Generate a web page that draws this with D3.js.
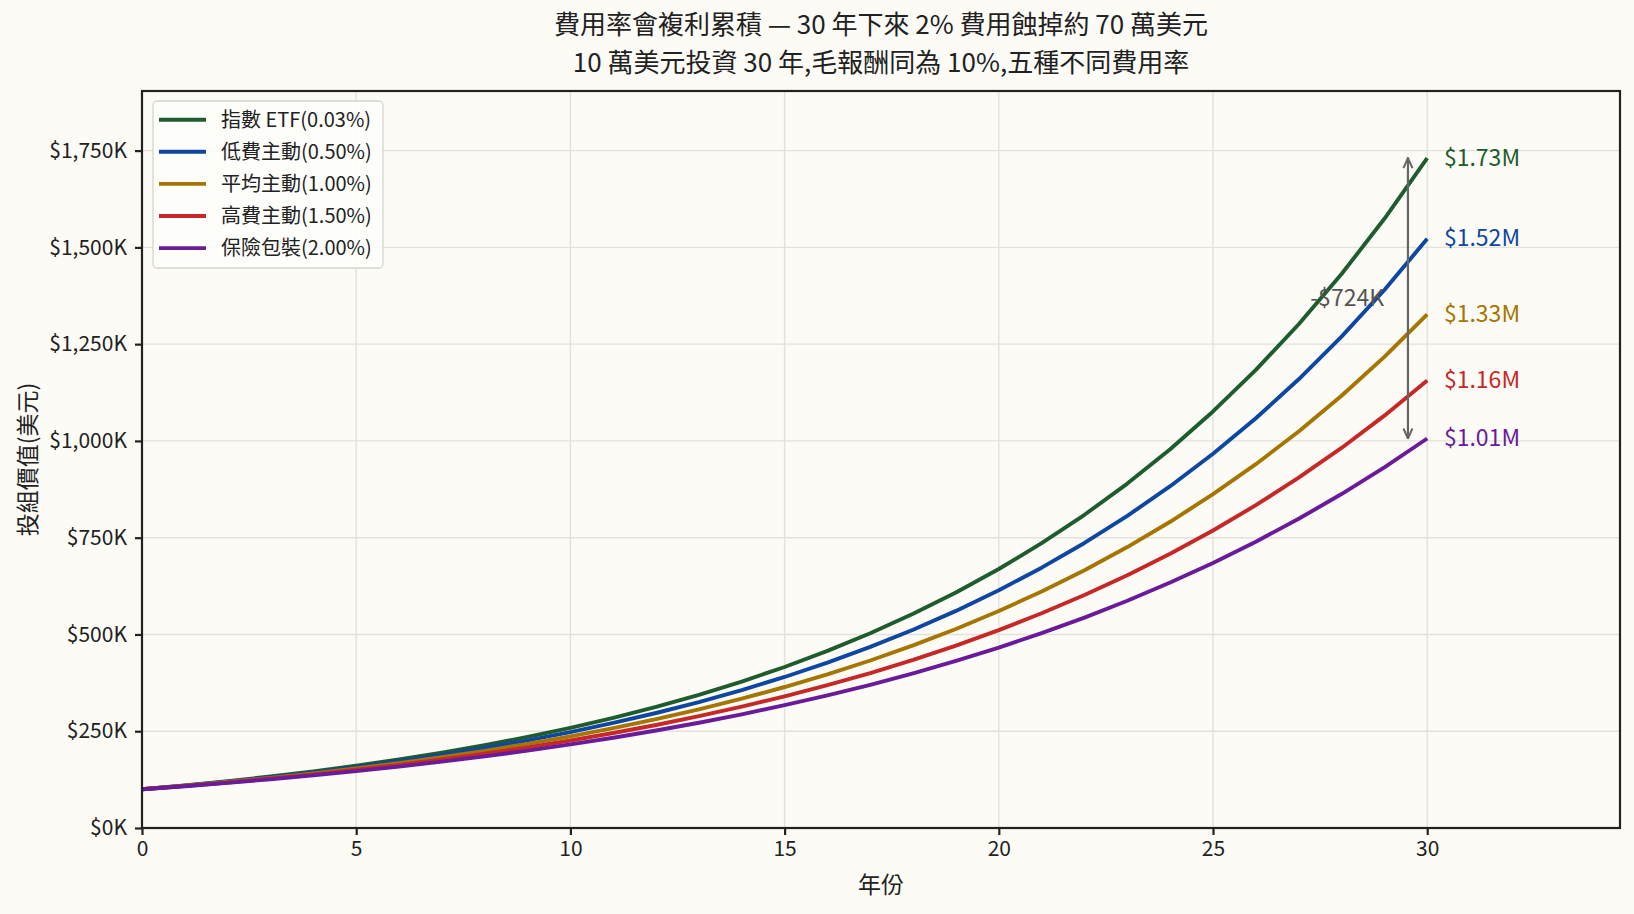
<!DOCTYPE html>
<html>
<head>
<meta charset="utf-8">
<script src="https://cdn.jsdelivr.net/npm/d3@7"></script>
<style>
  body { margin: 0; background: #fcfbf6; }
  svg { font-family: "Noto Sans CJK TC", "Noto Sans", sans-serif; }
</style>
</head>
<body>
<div></div>
<script>
// yearly portfolio value, in $K
var years = d3.range(0, 31);
var names = ["指數 ETF(0.03%)", "低費主動(0.50%)", "平均主動(1.00%)", "高費主動(1.50%)", "保險包裝(2.00%)"];
var colors = ["#1e5c2e", "#0d47a1", "#a57500", "#c62828", "#6a1b9a"];
var endLabels = ["$1.73M", "$1.52M", "$1.33M", "$1.16M", "$1.01M"];

var etf = [100, 109.97, 120.93, 132.99, 146.25, 160.83, 176.86, 194.50, 213.89, 235.21, 258.66,
  284.45, 312.81, 344.00, 378.30, 416.01, 457.49, 503.10, 553.26, 608.42, 669.08,
  735.79, 809.15, 889.82, 978.54, 1076.10, 1183.39, 1301.37, 1431.12, 1573.80, 1730.71];
var lowActive = [100, 109.5, 119.90, 131.30, 143.77, 157.42, 172.38, 188.76, 206.69, 226.32, 247.83,
  271.37, 297.15, 325.38, 356.29, 390.14, 427.20, 467.79, 512.23, 560.89, 614.17,
  672.52, 736.41, 806.37, 882.98, 966.86, 1058.71, 1159.29, 1269.42, 1390.02, 1522.07];
var avgActive = [100, 109, 118.81, 129.50, 141.16, 153.86, 167.71, 182.80, 199.26, 217.19, 236.74,
  258.04, 281.27, 306.58, 334.17, 364.25, 397.03, 432.76, 471.71, 514.17, 560.44,
  610.88, 665.86, 725.79, 791.11, 862.31, 939.92, 1024.51, 1116.71, 1217.22, 1326.77];
var highActive = [100, 108.5, 117.72, 127.73, 138.59, 150.37, 163.15, 177.02, 192.06, 208.39, 226.10,
  245.32, 266.17, 288.80, 313.34, 339.98, 368.88, 400.23, 434.25, 471.16, 511.21,
  554.66, 601.81, 652.96, 708.47, 768.69, 834.02, 904.92, 981.84, 1065.29, 1155.84];
var insurance = [100, 108, 116.64, 125.97, 136.05, 146.93, 158.69, 171.38, 185.09, 199.90, 215.89,
  233.16, 251.82, 271.96, 293.72, 317.22, 342.59, 370.00, 399.60, 431.57, 466.10,
  503.38, 543.65, 587.15, 634.12, 684.85, 739.64, 798.81, 862.71, 931.73, 1006.27];
var series = [etf, lowActive, avgActive, highActive, insurance];

var xTicks = [0, 5, 10, 15, 20, 25, 30];
var yTicks = [0, 250, 500, 750, 1000, 1250, 1500, 1750];
var gapLabel = "-$724K";
var titleLines = ["費用率會複利累積 — 30 年下來 2% 費用蝕掉約 70 萬美元",
  "10 萬美元投資 30 年,毛報酬同為 10%,五種不同費用率"];

var width = 1634, height = 914;
var margin = {left: 142, right: 14, top: 91, bottom: 86};

var svg = d3.select("div").append("svg")
    .attr("width", width)
    .attr("height", height)
    .style("display", "block");

svg.append("rect").attr("width", width).attr("height", height).attr("fill", "#fcfbf6");

var x = d3.scaleLinear()
    .domain([0, 34.5])
    .range([margin.left, width - margin.right]);
var y = d3.scaleLinear()
    .domain([0, 1904])
    .range([height - margin.bottom, margin.top]);

// grid
svg.append("g").selectAll("line").data(xTicks).enter().append("line")
    .attr("x1", d => x(d)).attr("x2", d => x(d))
    .attr("y1", margin.top).attr("y2", height - margin.bottom)
    .attr("stroke", "#e3e1db").attr("stroke-width", 1.4);
svg.append("g").selectAll("line").data(yTicks).enter().append("line")
    .attr("x1", margin.left).attr("x2", width - margin.right)
    .attr("y1", d => y(d)).attr("y2", d => y(d))
    .attr("stroke", "#e3e1db").attr("stroke-width", 1.4);

// lines
var line = d3.line()
    .x((d, i) => x(years[i]))
    .y(d => y(d));

svg.append("g").selectAll("path").data(series).enter().append("path")
    .attr("d", line)
    .attr("fill", "none")
    .attr("stroke", (d, i) => colors[i])
    .attr("stroke-width", 3.9)
    .attr("stroke-linejoin", "round");

// end labels
svg.append("g").selectAll("text").data(series).enter().append("text")
    .attr("x", x(30.39))
    .attr("y", d => y(d[30]))
    .attr("dy", "0.33em")
    .attr("fill", (d, i) => colors[i])
    .attr("font-size", 23)
    .text((d, i) => endLabels[i]);

// gap arrow
var defs = svg.append("defs");
defs.append("marker")
    .attr("id", "head")
    .attr("viewBox", "0 0 12 12")
    .attr("refX", 11).attr("refY", 6)
    .attr("markerWidth", 12).attr("markerHeight", 12)
    .attr("markerUnits", "userSpaceOnUse")
    .attr("orient", "auto-start-reverse")
    .append("path")
    .attr("d", "M1,1.5 L11,6 L1,10.5")
    .attr("fill", "none")
    .attr("stroke", "#666")
    .attr("stroke-width", 2);

var ax = 29.55;
svg.append("line")
    .attr("x1", x(ax)).attr("x2", x(ax))
    .attr("y1", y(etf[30])).attr("y2", y(insurance[30]))
    .attr("stroke", "#666")
    .attr("stroke-width", 2.2)
    .attr("marker-start", "url(#head)")
    .attr("marker-end", "url(#head)");

svg.append("text")
    .attr("x", x(28.13))
    .attr("y", y((etf[30] + insurance[30]) / 2))
    .attr("dy", "0.35em")
    .attr("text-anchor", "middle")
    .attr("fill", "#555")
    .attr("font-size", 23)
    .text(gapLabel);

// axes
var xAxis = svg.append("g")
    .attr("transform", "translate(0," + (height - margin.bottom) + ")")
    .call(d3.axisBottom(x).tickValues(xTicks).tickSize(7).tickPadding(6));
var yAxis = svg.append("g")
    .attr("transform", "translate(" + margin.left + ",0)")
    .call(d3.axisLeft(y).tickValues(yTicks).tickSize(7).tickPadding(8)
        .tickFormat(d => "$" + d3.format(",")(d) + "K"));

[xAxis, yAxis].forEach(function (g) {
    g.select(".domain").remove();
    g.selectAll(".tick line").attr("stroke", "#222").attr("stroke-width", 2.2);
    g.selectAll(".tick text").attr("fill", "#222").attr("font-size", 21)
        .attr("font-family", "\"Noto Sans CJK TC\", sans-serif");
});

// frame
svg.append("rect")
    .attr("x", margin.left).attr("y", margin.top)
    .attr("width", width - margin.left - margin.right)
    .attr("height", height - margin.top - margin.bottom)
    .attr("fill", "none")
    .attr("stroke", "#222")
    .attr("stroke-width", 2.2);

// axis labels
var cx = (margin.left + width - margin.right) / 2;
svg.append("text")
    .attr("x", cx)
    .attr("y", 885)
    .attr("dy", "0.35em")
    .attr("text-anchor", "middle")
    .attr("font-size", 23)
    .attr("fill", "#222")
    .text("年份");
svg.append("text")
    .attr("transform", "translate(28," + ((margin.top + height - margin.bottom) / 2) + ") rotate(-90)")
    .attr("dy", "0.35em")
    .attr("text-anchor", "middle")
    .attr("font-size", 23)
    .attr("fill", "#222")
    .text("投組價值(美元)");

// title
svg.append("g").selectAll("text").data(titleLines).enter().append("text")
    .attr("x", cx)
    .attr("y", (d, i) => 33.5 + i * 38)
    .attr("text-anchor", "middle")
    .attr("font-size", 26)
    .attr("fill", "#222")
    .text(d => d);

// legend
var lg = svg.append("g").attr("transform", "translate(153,101)");
lg.append("rect")
    .attr("width", 230).attr("height", 167)
    .attr("rx", 4)
    .attr("fill", "#fdfdfb")
    .attr("fill-opacity", 0.9)
    .attr("stroke", "#d4d4d0")
    .attr("stroke-width", 1.3);
var items = lg.selectAll("g").data(names).enter().append("g")
    .attr("transform", (d, i) => "translate(0," + (18.7 + i * 32.1) + ")");
items.append("line")
    .attr("x1", 6).attr("x2", 53)
    .attr("stroke", (d, i) => colors[i])
    .attr("stroke-width", 3.9);
items.append("text")
    .attr("x", 68)
    .attr("dy", "0.35em")
    .attr("font-size", 20)
    .attr("fill", "#222")
    .text(d => d);
</script>
</body>
</html>
